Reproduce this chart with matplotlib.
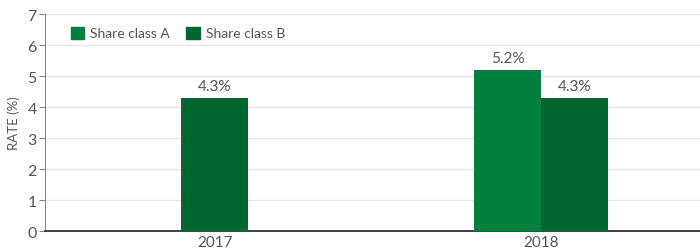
import numpy as np
import matplotlib
matplotlib.use("Agg")
import matplotlib.pyplot as plt
from matplotlib.patches import Patch

# ── Data ──────────────────────────────────────────────────────────────
years = ["2017", "2018"]
series_names = ["Share class A", "Share class B"]
class_a = [None, 5.2]
class_b = [4.3, 4.3]
y_ticks = [0, 1, 2, 3, 4, 5, 6, 7]

COLOR_A = "#007f3f"
COLOR_B = "#00662f"
TEXT = "#555555"

plt.rcParams["font.family"] = ["Lato", "DejaVu Sans"]

fig = plt.figure(figsize=(7, 2.53), dpi=100)
ax = fig.add_axes([0.0643, 0.083, 0.9357, 0.8577])

bw = 0.205
for i, (a, b) in enumerate(zip(class_a, class_b)):
    if a is None:
        pos = [(i, b, COLOR_B)]
    else:
        pos = [(i - bw / 2, a, COLOR_A), (i + bw / 2, b, COLOR_B)]
    for x, v, c in pos:
        ax.bar(x, v, width=bw, color=c, zorder=3)
        ax.text(x, v + 0.16, f"{v:.1f}%", ha="center", va="bottom",
                fontsize=11, color=TEXT)

ax.set_xlim(-0.521, 1.488)
ax.set_ylim(0, 7)
ax.set_yticks(y_ticks)
ax.set_xticks(range(len(years)))
ax.set_xticklabels(years)
ax.grid(axis="y", color="#e6e6e6", linewidth=1, zorder=0)
ax.set_axisbelow(True)

for s in ["top", "right"]:
    ax.spines[s].set_visible(False)
ax.spines["left"].set_color("#888888")
ax.spines["bottom"].set_color("#222222")
ax.spines["bottom"].set_linewidth(1.2)
ax.tick_params(axis="y", colors="#888888", labelcolor=TEXT, labelsize=11.5,
               length=4, pad=2)
ax.tick_params(axis="x", length=0, labelcolor=TEXT, labelsize=11, pad=3)
ax.set_ylabel("RATE (%)", fontsize=9.5, color=TEXT, labelpad=5)

handles = [Patch(color=COLOR_A, label=series_names[0]),
           Patch(color=COLOR_B, label=series_names[1])]
ax.legend(handles=handles, loc="upper left", bbox_to_anchor=(0.02, 1.0),
          ncol=2, frameon=False, fontsize=10, labelcolor=TEXT,
          handlelength=1.0, handleheight=1.0, handletextpad=0.4,
          columnspacing=1.2)

fig.savefig("out.png", dpi=100)
